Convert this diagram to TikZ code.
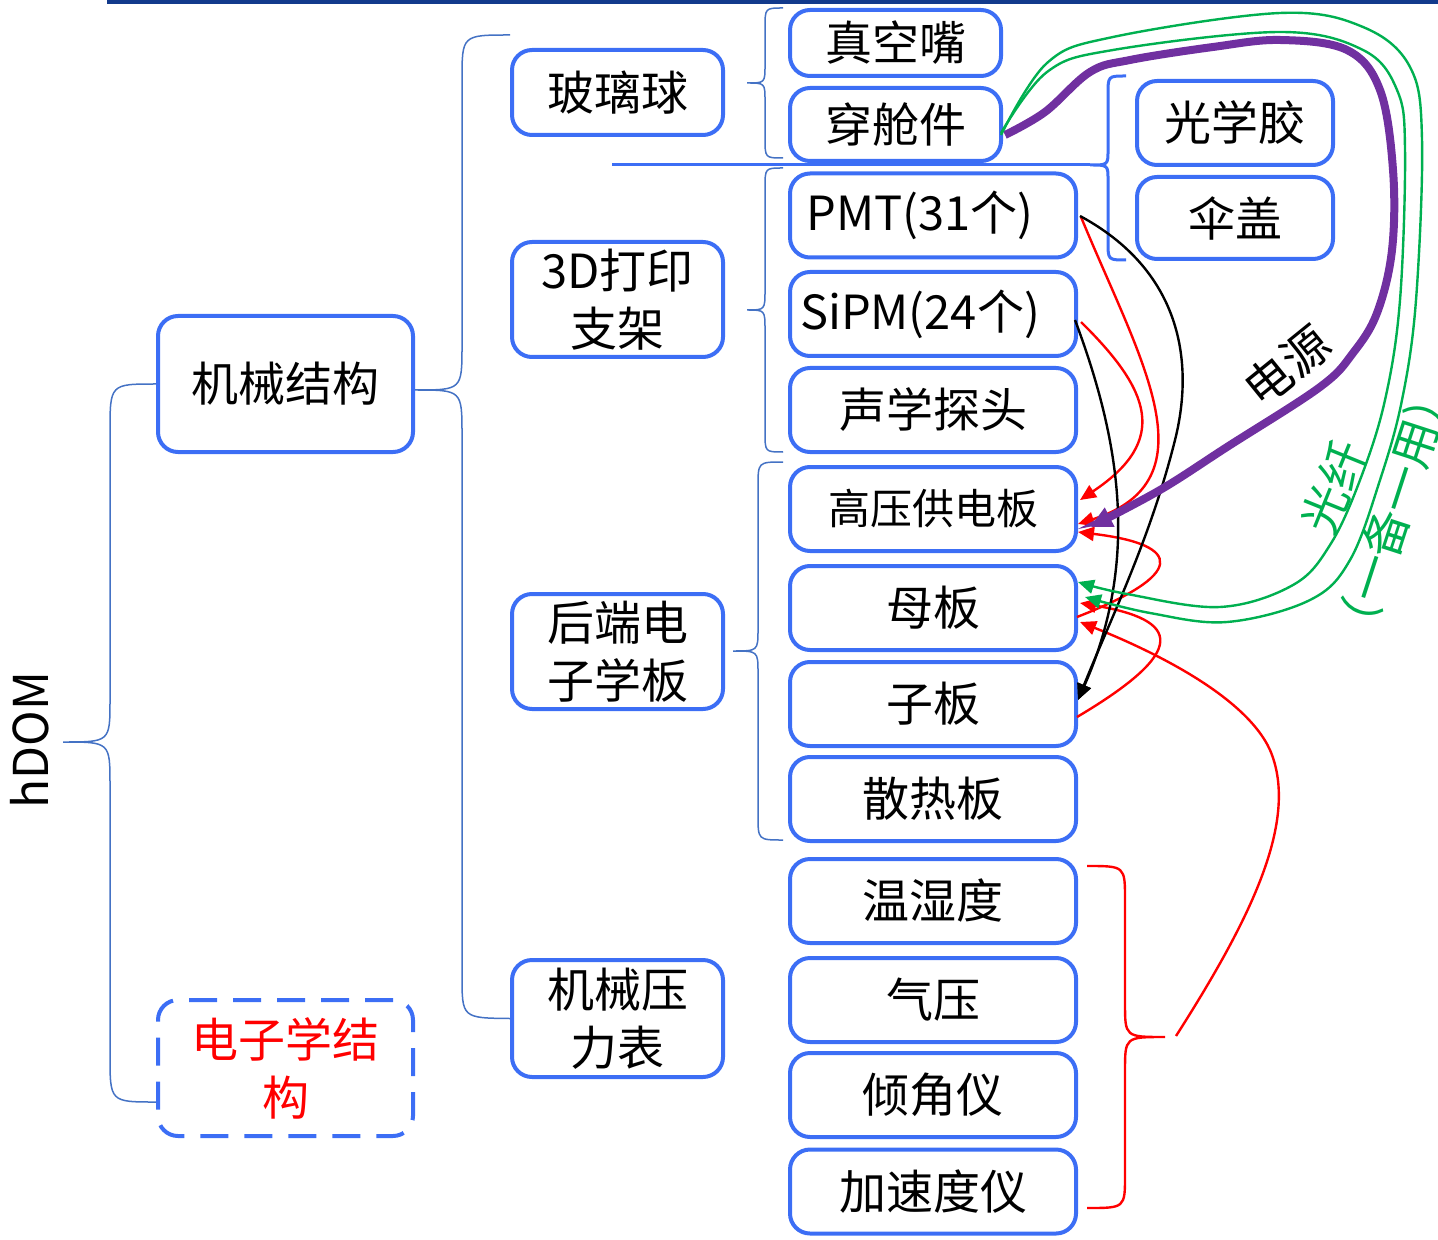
\documentclass[tikz,border=0pt]{standalone}
\usepackage{fontspec}
\setmainfont{Noto Sans CJK SC}
\usetikzlibrary{arrows.meta,calc}
\definecolor{boxblue}{RGB}{60,110,245}
\definecolor{lineblue}{RGB}{68,114,196}
\definecolor{navy}{RGB}{18,58,140}
\definecolor{pur}{RGB}{112,48,160}
\definecolor{grn}{RGB}{0,176,80}
\begin{document}
\begin{tikzpicture}[x=0.5pt,y=-0.5pt,
  box/.style={draw=boxblue, line width=2pt, rounded corners=10pt, inner sep=0pt, align=center, font=\fontsize{23.5}{29}\selectfont, text=black},
  lvl1/.style={box, minimum width=127.5pt, minimum height=68pt},
  lvl2/.style={box, minimum width=105.5pt},
  leaf/.style={box, minimum width=143pt, minimum height=42pt},
  brace/.style={draw=lineblue, line width=0.75pt},
  redl/.style={draw=red, line width=1.2pt},
  blk/.style={draw=black, line width=1.2pt},
  tri/.style={-{Triangle[length=8pt,width=7pt]}},
  lbl/.style={font=\fontsize{23.5}{28}\selectfont, inner sep=0pt},
]
\useasboundingbox (0,0) rectangle (1438,1240);
\fill[navy] (107,0) rectangle (1438,4);

% level 0 / 1
\node[rotate=90, lbl, font=\fontsize{24}{28}\selectfont] (hdom) at (30,740) {hDOM};
\node[lvl1] (jx) at (285.5,384) {机械结构};
\node[lvl1, dash pattern=on 14pt off 8pt, text=red] (dz) at (285.5,1068) {电子学结\\构};

% level 2
\node[lvl2, minimum height=42.5pt] (blq) at (617.5,92.5) {玻璃球};
\node[lvl2, minimum height=57.5pt] (dy) at (617.5,299.5) {3D打印\\支架};
\node[lvl2, minimum height=57.5pt] (hd) at (617.5,651.5) {后端电\\子学板};
\node[lvl2, minimum height=58.5pt] (jy) at (617.5,1018.5) {机械压\\力表};

% level 3
\node[lvl2, minimum height=33pt] (zk) at (895.5,43) {真空嘴};
\node[lvl2, minimum height=36.5pt] (cc) at (895.5,124.5) {穿舱件};
\node[leaf] (pmt) at (933,215.5) {PMT(31个)\hspace*{13pt}};
\node[leaf] (sipm) at (933,314) {SiPM(24个)\hspace*{13pt}};
\node[leaf] (sx) at (933,410) {声学探头};
\node[leaf, font=\fontsize{21}{26}\selectfont] (gy) at (933,509) {高压供电板};
\node[leaf] (mb) at (933,608) {母板};
\node[leaf] (zb) at (933,704) {子板};
\node[leaf] (sr) at (933,799) {散热板};
\node[leaf] (wsd) at (933,901) {温湿度};
\node[leaf] (qy) at (933,1000) {气压};
\node[leaf] (qj) at (933,1095) {倾角仪};
\node[leaf] (js) at (933,1191.5) {加速度仪};
\node[box, minimum width=98pt, minimum height=42pt] (gxj) at (1235,123) {光学胶};
\node[box, minimum width=98pt, minimum height=41pt] (sg) at (1235,218) {伞盖};

% braces
\draw[brace] (jx.west) .. controls (110,384) .. (110,432) -- (110,700) .. controls (110,742) .. (63,742) .. controls (110,742) .. (110,785) -- (110,1055) .. controls (110,1102) .. ($(dz.west)+(0,34)$);
\coordinate (b1t) at (510,35);
\draw[brace] (b1t) .. controls (462,35) .. (462,80) -- (462,345) .. controls (462,390) .. ($(jx.east)+(0,6)$) .. controls (462,390) .. (462,435) -- (462,975) .. controls (462,1018) .. (jy.west);
\draw[brace] (783,8) .. controls (765,8) .. (765,28) -- (765,65) .. controls (765,83) .. (747,83) .. controls (765,83) .. (765,101) -- (765,138) .. controls (765,158) .. (783,158);
\draw[brace] (783,168) .. controls (765,168) .. (765,188) -- (765,290) .. controls (765,310) .. (747,310) .. controls (765,310) .. (765,330) -- (765,432) .. controls (765,452) .. (783,452);
\draw[brace] (783,462) .. controls (758,462) .. (758,487) -- (758,629) .. controls (758,651) .. (733,651) .. controls (758,651) .. (758,673) -- (758,815) .. controls (758,840) .. (783,840);

\draw[boxblue, line width=1.5pt] (612,165) -- (1090,165);
\draw[boxblue, line width=1.5pt] (1126,76) .. controls (1108,76) .. (1108,94) -- (1108,150) .. controls (1108,165) .. (1090,165) .. controls (1108,165) .. (1108,180) -- (1108,242) .. controls (1108,260) .. (1126,260);

\draw[red, line width=1.2pt] (1087,866) .. controls (1125,866) .. (1125,900) -- (1125,1003) .. controls (1125,1037) .. (1165,1037) .. controls (1125,1037) .. (1125,1071) -- (1125,1175) .. controls (1125,1208) .. (1087,1208);
\coordinate (rb) at (1176,1036);

% red connectors
\draw[redl, tri] (rb) .. controls (1250,920) and (1300,820) .. (1270,750) .. controls (1245,695) and (1150,650) .. ($(mb.east)+(2,14)$);
\draw[redl, tri] ($(mb.east)+(-1,9)$) .. controls (1185,575) and (1185,545) .. ($(gy.east)+(0,23)$);
\draw[redl, tri] ($(zb.east)+(-1,13)$) .. controls (1190,650) and (1180,620) .. ($(mb.east)+(2,-5)$);
\draw[redl, tri] ($(pmt.east)+(3,1.5)$) .. controls (1140,360) and (1215,480) .. ($(gy.east)+(0,15)$);
\draw[redl, tri] ($(sipm.east)+(3,8)$) .. controls (1150,390) and (1170,440) .. ($(gy.east)+(2,-9)$);

% black connectors
\draw[blk, tri] ($(pmt.east)+(2,0.5)$) .. controls (1180,270) and (1195,360) .. (1175,440) .. controls (1150,540) and (1110,620) .. ($(zb.east)+(0,-4)$);
\draw[blk, tri] ($(sipm.east)+(-3,6)$) .. controls (1120,440) and (1140,560) .. ($(zb.east)+(0,-4)$);

% purple power
\coordinate (p0) at ($(cc.east)+(2,10.5)$);
\coordinate (pe) at ($(gy.east)+(12,18)$);
\draw[pur, line width=4pt, -{Triangle[length=11pt,width=10pt]}] plot[smooth, tension=0.6] coordinates {(p0) (1045,112) (1090,72) (1130,60) (1213,47) (1280,40) (1347,50) (1380,90) (1393,170) (1392,250) (1377,313) (1353,353) (1320,387) (1227,447) (1160,490) (pe)};

% green fibres
\coordinate (g0) at ($(cc.east)+(-2,8.5)$);
\coordinate (ge) at ($(mb.east)+(0,-26)$);
\coordinate (h0) at ($(cc.east)+(-2,10.5)$);
\coordinate (he) at ($(mb.east)+(7,-11)$);
\draw[grn, line width=1.2pt, tri] plot[smooth, tension=0.6] coordinates {(g0) (1047,72) (1113,50) (1280,32) (1363,50) (1397,90) (1405,150) (1400,300) (1385,400) (1360,480) (1330,545) (1293,585) (1220,607) (1127,594) (ge)};
\draw[grn, line width=1.2pt, tri] plot[smooth, tension=0.6] coordinates {(h0) (1047,63) (1113,37) (1280,13) (1363,27) (1410,67) (1422,140) (1416,300) (1402,400) (1380,480) (1350,560) (1310,600) (1227,622) (1150,613) (he)};

% labels
\node[lbl, rotate=39] (ldy) at (1287,366) {电源};
\node[lbl, rotate=68, text=grn] (lgx) at (1334,487) {光纤};
\node[lbl, rotate=72, text=grn] (lby) at (1393,511) {（一备一用）};
\end{tikzpicture}
\end{document}
